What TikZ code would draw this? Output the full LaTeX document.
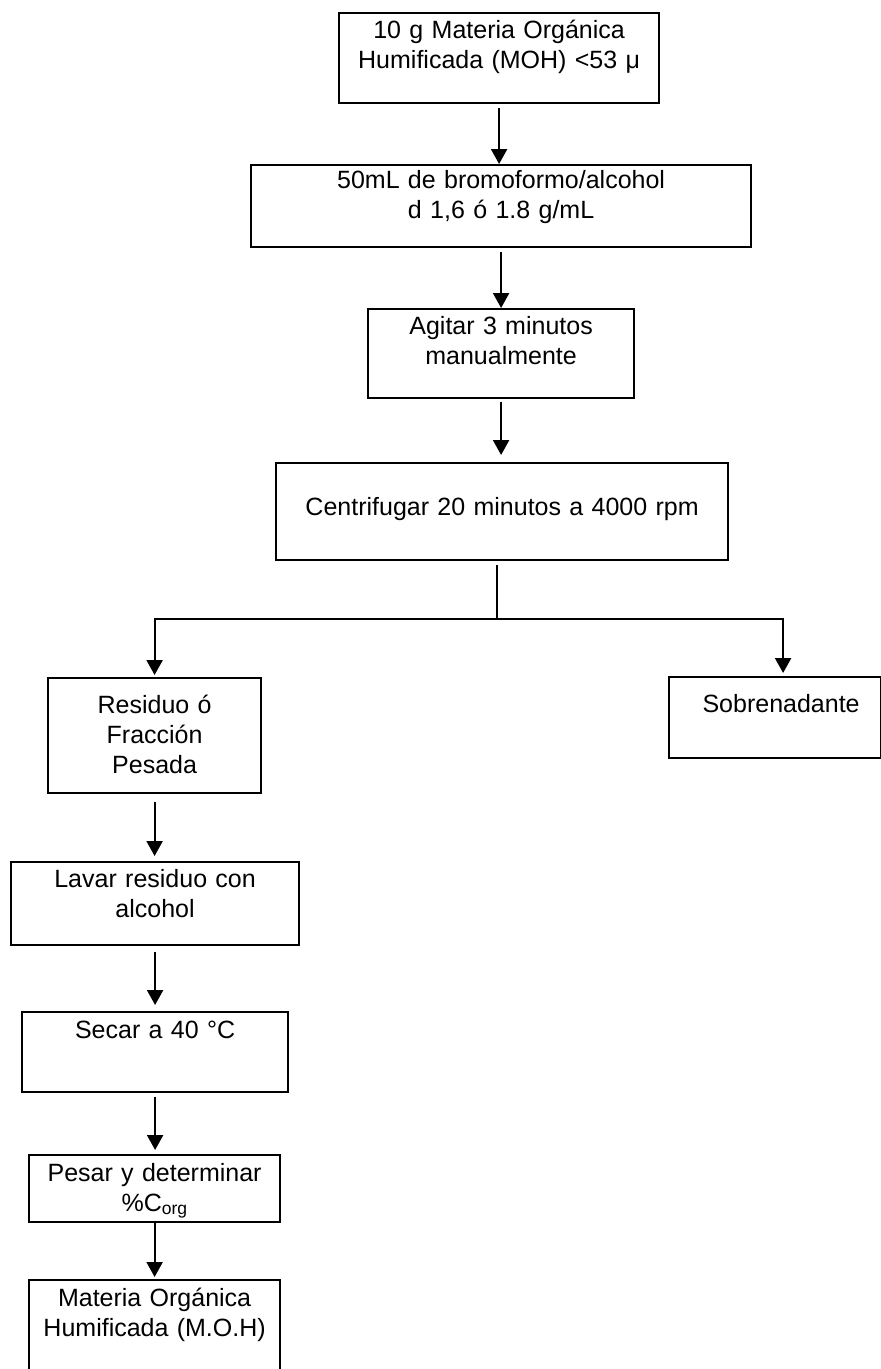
\documentclass[tikz,border=0pt]{standalone}
\usepackage{fontspec}
\setmainfont{Liberation Sans}
\usetikzlibrary{arrows.meta}
\begin{document}
\begin{tikzpicture}[x=1pt,y=-1pt,
  stepbox/.style={draw, line width=2.2pt, inner sep=0pt, align=center,
    anchor=north west, font=\fontsize{25}{30}\selectfont},
  flow/.style={line width=2.2pt, -{Triangle[width=16pt,length=15pt]}},
  link/.style={line width=2.2pt}]
\useasboundingbox (0,0) rectangle (881,1369);
\clip (0,0) rectangle (881,1369);
\fill[white] (0,0) rectangle (881,1369);

% main column
\node[stepbox, text width=320pt, text height=25pt, text depth=65pt] (b1) at (338,12)
  {10 g Materia Orgánica\\Humificada (MOH) <53 μ};
\node[stepbox, text width=500pt, text height=23pt, text depth=59pt] (b2) at (250,164)
  {50mL de bromoformo/alcohol\\d 1,6 ó 1.8 g/mL};
\node[stepbox, text width=266pt, text height=25pt, text depth=64pt] (b3) at (367,308)
  {Agitar 3 minutos\\manualmente};
\node[stepbox, text width=452pt, text height=52pt, text depth=45pt] (b4) at (275,462)
  {Centrifugar 20 minutos a 4000 rpm};

% the two fractions
\node[stepbox, text width=213pt, text height=35pt, text depth=80pt] (b5) at (47,677)
  {Residuo ó\\Fracción\\Pesada};
\node[stepbox, text width=212pt, text height=35pt, text depth=46pt] (b6) at (668,676)
  {\hspace*{12pt}Sobrenadante};

% processing of the heavy fraction
\node[stepbox, text width=288pt, text height=25pt, text depth=58pt] (b7) at (10,861)
  {Lavar residuo con\\alcohol};
\node[stepbox, text width=266pt, text height=26pt, text depth=54pt] (b8) at (21,1011)
  {Secar a 40 °C};
\node[stepbox, text width=251pt, text height=26pt, text depth=41pt] (b9) at (28,1154)
  {Pesar y determinar\\\%C\textsubscript{org}};
\node[stepbox, text width=251pt, text height=26pt, text depth=120pt] (b10) at (28,1279)
  {Materia Orgánica\\Humificada (M.O.H)};

% connectors
\draw[flow, shorten <=4pt] (b1.south) -- (b1.south |- b2.north);
\draw[flow, shorten <=4pt] (b2.south) -- (b2.south |- b3.north);
\draw[flow, shorten <=3pt, shorten >=7pt] (b3.south) -- (b3.south |- b4.north);
\coordinate (split) at (497,619);
\draw[link, shorten <=4pt] (split |- b4.south) -- (split);
\draw[flow, shorten >=2pt] (split) -| (b5.north);
\draw[flow, shorten >=3pt] (split) -| ([xshift=8pt]b6.north);
\draw[flow, shorten <=8pt, shorten >=5pt] (b5.south) -- (b5.south |- b7.north);
\draw[flow, shorten <=6pt, shorten >=6pt] (b7.south) -- (b7.south |- b8.north);
\draw[flow, shorten <=4pt, shorten >=4pt] (b8.south) -- (b8.south |- b9.north);
\draw[flow, shorten >=2pt] (b9.south) -- (b9.south |- b10.north);
\end{tikzpicture}
\end{document}
